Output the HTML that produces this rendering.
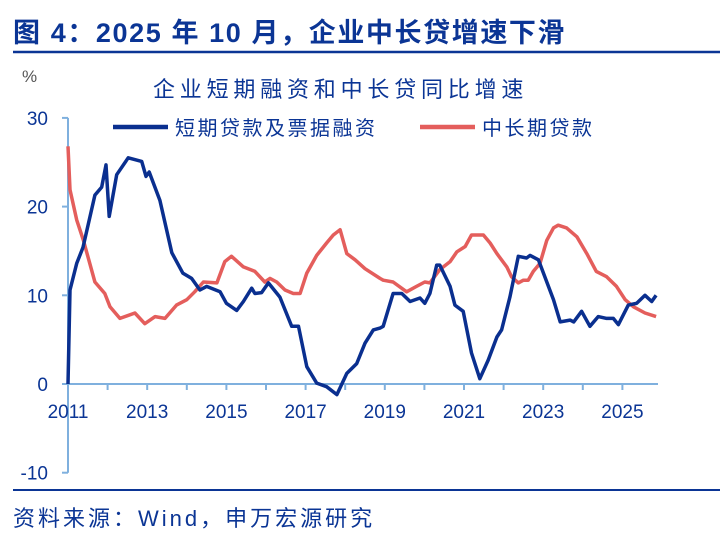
<!DOCTYPE html>
<html><head><meta charset="utf-8">
<style>
body{margin:0;background:#fff;width:728px;height:543px;overflow:hidden;font-family:"Liberation Sans","Noto Sans CJK SC",sans-serif;}
svg text{font-family:"Liberation Sans","Noto Sans CJK SC",sans-serif;}
</style></head><body>
<svg id="chart" width="728" height="543">
<text x="13" y="42" font-size="27" letter-spacing="1.6" font-weight="bold" fill="#0b3595">图 4：2025 年 10 月，企业中长贷增速下滑</text>
<line x1="13" y1="52" x2="720" y2="52" stroke="#0b3595" stroke-width="2.5"/>
<text x="22" y="82" font-size="17" fill="#555">%</text>
<text x="153" y="97" font-size="22" letter-spacing="4.8" fill="#0b3595">企业短期融资和中长贷同比增速</text>
<g>
<g>
<line x1="113" y1="127" x2="168" y2="127" stroke="#0a2f8f" stroke-width="4.5"/>
<text x="175" y="135" font-size="20" letter-spacing="2.5" fill="#0b3595">短期贷款及票据融资</text></g>
<g>
<line x1="420" y1="127" x2="475" y2="127" stroke="#e45e5c" stroke-width="4.5"/>
<text x="482" y="135" font-size="20" letter-spacing="2.5" fill="#0b3595">中长期贷款</text></g>
</g>
<g id="axes"></g>
<g id="series"></g>
<line x1="13" y1="490" x2="720" y2="490" stroke="#0b3595" stroke-width="2"/>
<text x="13" y="526" font-size="22" letter-spacing="3" fill="#0b3595">资料来源：Wind，申万宏源研究</text>
</svg>
<script>
const yTicks=[30,20,10,0,-10];
const xTickYears=[2011,2012,2013,2014,2015,2016,2017,2018,2019,2020,2021,2022,2023,2024,2025];
const xLabels=["2011","2013","2015","2017","2019","2021","2023","2025"];
const shortYears=[2011.0,2011.05,2011.22,2011.38,2011.68,2011.85,2011.96,2012.04,2012.23,2012.52,2012.86,2012.97,2013.05,2013.32,2013.62,2013.9,2014.12,2014.33,2014.5,2014.84,2015.0,2015.26,2015.43,2015.64,2015.72,2015.89,2016.06,2016.35,2016.65,2016.82,2017.03,2017.28,2017.53,2017.79,2018.04,2018.29,2018.5,2018.71,2018.88,2018.96,2019.21,2019.43,2019.64,2019.89,2020.01,2020.14,2020.31,2020.39,2020.65,2020.77,2020.98,2021.19,2021.4,2021.61,2021.83,2021.95,2022.16,2022.37,2022.58,2022.67,2022.88,2023.09,2023.26,2023.43,2023.68,2023.77,2023.97,2024.18,2024.39,2024.6,2024.77,2024.9,2025.15,2025.36,2025.57,2025.74,2025.85];
const shortValues=[0,10.6,13.6,15.4,21.3,22.2,24.7,18.9,23.6,25.5,25.1,23.4,23.9,20.7,14.8,12.5,11.9,10.6,11,10.4,9.1,8.3,9.3,10.8,10.2,10.3,11.4,9.8,6.5,6.5,1.95,0.1,-0.3,-1.2,1.2,2.3,4.6,6.1,6.3,6.5,10.2,10.2,9.3,9.7,9.1,10.2,13.4,13.4,11,8.9,8.2,3.5,0.6,2.7,5.3,6.1,9.8,14.4,14.2,14.5,14,11.5,9.5,7,7.2,7,8.2,6.5,7.6,7.4,7.4,6.7,8.9,9.1,10,9.3,10];
const longYears=[2011.0,2011.05,2011.22,2011.39,2011.68,2011.93,2012.06,2012.31,2012.69,2012.94,2013.2,2013.45,2013.74,2014.0,2014.2,2014.42,2014.76,2014.96,2015.13,2015.43,2015.72,2015.97,2016.1,2016.27,2016.48,2016.69,2016.86,2017.03,2017.28,2017.53,2017.7,2017.87,2018.04,2018.25,2018.5,2018.88,2018.96,2019.21,2019.55,2019.8,2020.01,2020.14,2020.39,2020.65,2020.82,2021.03,2021.19,2021.49,2021.66,2021.83,2022.08,2022.2,2022.37,2022.5,2022.62,2022.75,2022.92,2023.09,2023.26,2023.38,2023.59,2023.85,2024.1,2024.34,2024.6,2024.85,2025.07,2025.28,2025.57,2025.85];
const longValues=[26.8,21.9,18.5,16.2,11.5,10.2,8.7,7.4,8,6.8,7.6,7.4,8.9,9.5,10.4,11.5,11.4,13.8,14.4,13.2,12.7,11.5,11.9,11.5,10.6,10.2,10.2,12.5,14.5,15.9,16.8,17.4,14.7,14,13,11.9,11.7,11.5,10.4,11,11.5,11.4,12.9,13.8,14.9,15.5,16.8,16.8,15.9,14.7,13.2,12.1,11.4,11.7,11.7,12.7,13.6,16.2,17.6,17.9,17.6,16.6,14.7,12.7,12.1,11,9.5,8.7,8,7.6];
const NS="http://www.w3.org/2000/svg";
const x=y=>68+(y-2011)*39.6;
const yv=v=>384-v*8.87;
const axes=document.getElementById('axes'),series=document.getElementById('series');
function mk(tag,attrs,parent){const e=document.createElementNS(NS,tag);for(const k in attrs)e.setAttribute(k,attrs[k]);parent.appendChild(e);return e;}
const ax=mk('line',{x1:68,y1:yv(30),x2:68,y2:yv(-10),stroke:'#7fb0de','stroke-width':2},axes);


yTicks.forEach(t=>{
 const l=mk('line',{x1:62,y1:yv(t),x2:68,y2:yv(t),stroke:'#7fb0de','stroke-width':2},axes);
 
 
 const tx=mk('text',{x:48,y:yv(t)+7,'font-size':19,fill:'#0b3595','text-anchor':'end'},axes);
 tx.textContent=t;
 
 
});
const xa=mk('line',{x1:68,y1:yv(0),x2:658,y2:yv(0),stroke:'#7fb0de','stroke-width':2},axes);


xTickYears.forEach(yr=>{
 const l=mk('line',{x1:x(yr),y1:yv(0),x2:x(yr),y2:yv(0)+6,stroke:'#7fb0de','stroke-width':2},axes);
 
 
});
xLabels.forEach(s=>{
 const tx=mk('text',{x:x(+s),y:418,'font-size':19,fill:'#0b3595','text-anchor':'middle'},axes);
 tx.textContent=s;
 
 
});
function path(xs,vs){return xs.map((a,i)=>(i?'L':'M')+x(a).toFixed(1)+','+yv(vs[i]).toFixed(1)).join('');}
const lp=mk('path',{d:path(longYears,longValues),fill:'none',stroke:'#e45e5c','stroke-width':3.5,'stroke-linejoin':'round'},series);


const sp=mk('path',{d:path(shortYears,shortValues),fill:'none',stroke:'#0a2f8f','stroke-width':3.5,'stroke-linejoin':'round'},series);


</script>
</body></html>
